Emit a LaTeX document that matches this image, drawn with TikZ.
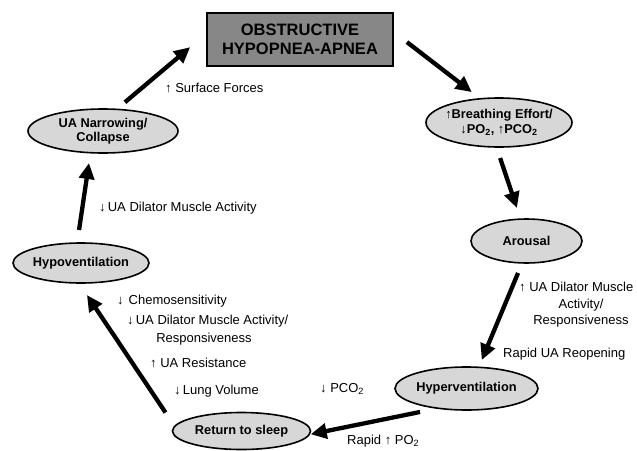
\documentclass[tikz,border=0pt]{standalone}
\usepackage{fontspec}
\setmainfont{Liberation Sans}
\usetikzlibrary{shapes.geometric,arrows.meta}
\definecolor{titlefill}{RGB}{135,135,135}
\definecolor{ellfill}{RGB}{215,215,215}
\begin{document}
\begin{tikzpicture}[x=1pt,y=-1pt,
  ell/.style={ellipse,draw=black,line width=1.6pt,fill=ellfill,inner sep=-5pt,outer sep=0pt,align=center,font=\fontsize{12.8}{14.5}\selectfont\bfseries},
  lab/.style={anchor=base west,inner sep=0pt,font=\fontsize{13}{14}\selectfont},
  labc/.style={anchor=base,inner sep=0pt,font=\fontsize{13}{14}\selectfont},
  arr/.style={line width=4.3pt,-{Triangle[length=16pt,width=15pt]}}]
\useasboundingbox (0,0) rectangle (637,450);

\node[draw=black,line width=1.6pt,fill=titlefill,minimum width=186pt,minimum height=53pt,inner sep=0pt,outer sep=0pt,align=center,font=\fontsize{16.5}{19}\selectfont\bfseries] (title) at (300,39.5) {OBSTRUCTIVE\\HYPOPNEA-APNEA};

\node[ell,minimum width=150pt,minimum height=44pt] (ua) at (103,131) {UA Narrowing/\\Collapse};
\node[ell,minimum width=146pt,minimum height=49pt] (be) at (499,122.5) {↑Breathing Effort/\\↓PO\textsubscript{2}, ↑PCO\textsubscript{2}};
\node[ell,minimum width=111pt,minimum height=44pt] (ar) at (526.5,241) {Arousal};
\node[ell,minimum width=143pt,minimum height=43pt] (hyper) at (466.5,388.5) {Hyperventilation};
\node[ell,minimum width=138pt,minimum height=37pt] (rs) at (241.5,431) {Return to sleep};
\node[ell,minimum width=136pt,minimum height=40pt] (hypo) at (81,263) {Hypoventilation};

\draw[arr,shorten <=11pt,shorten >=22pt] (ua.58) -- (title.176);
\draw[arr,shorten <=17.6pt,shorten >=11pt] (title.5) -- (be.128);
\draw[arr,shorten <=11.6pt,shorten >=11.7pt] (be.264) -- (ar.105);
\draw[arr,shorten <=10.9pt,shorten >=7.9pt] (ar.259) -- (hyper.60);
\draw[arr,shorten <=18.6pt,shorten >=1.5pt] (hyper.215) -- (rs.357);
\draw[arr,shorten <=16.6pt,shorten >=14.5pt] (rs.176) -- (hypo.264);
\draw[arr,shorten <=13.2pt,shorten >=10.4pt] (hypo.101) -- (ua.240);

\node[lab] (l1) at (165,92.5) {↑ Surface Forces};
\node[lab] (l2) at (99,211.5) {↓\,UA Dilator Muscle Activity};
\node[lab] (l3) at (117,304.5) {↓\hspace{5pt}Chemosensitivity};
\node[lab] (l4) at (127,324.5) {↓\,UA Dilator Muscle Activity/};
\node[labc] (l5) at (204,342.5) {Responsiveness};
\node[lab] (l6) at (150,367.5) {↑ UA Resistance};
\node[lab] (l7) at (174,394.5) {↓\,Lung Volume};
\node[lab] (l8) at (320,392.5) {↓ PCO\textsubscript{2}};
\node[lab] (l9) at (347,444.5) {Rapid ↑ PO\textsubscript{2}};
\node[lab] (l10) at (503,357.5) {Rapid UA Reopening};
\node[lab] (l11) at (519,291.5) {↑ UA Dilator Muscle};
\node[labc] (l12) at (581,308) {Activity/};
\node[labc] (l13) at (581,324.5) {Responsiveness};
\end{tikzpicture}
\end{document}
